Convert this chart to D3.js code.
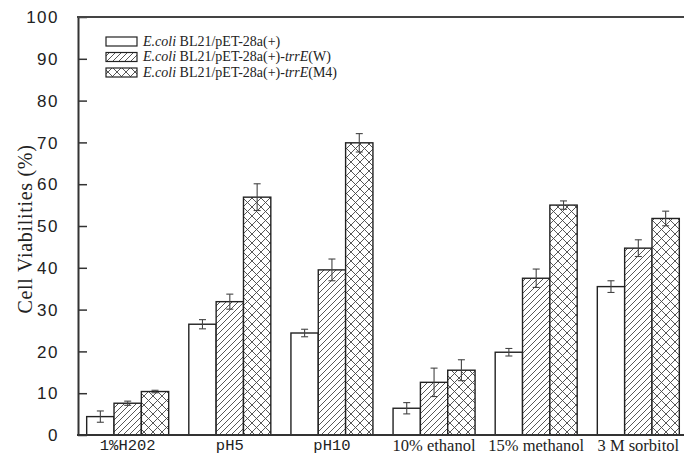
<!DOCTYPE html>
<html><head><meta charset="utf-8">
<script src="https://cdn.jsdelivr.net/npm/d3@7/dist/d3.min.js"></script>
<style>
html,body{margin:0;padding:0;background:#fff;}
svg{display:block;}
</style></head>
<body>
<svg id="chart" width="684" height="455"></svg>
<script>
const categories = ["1%H202", "pH5", "pH10", "10% ethanol", "15% methanol", "3 M sorbitol"];
const monoCats = ["1%H202", "pH5", "pH10"];
const seriesNames = ["control", "W", "M4"];
const controlValues = [4.4, 26.5, 24.4, 6.4, 19.8, 35.5];
const controlErrors = [1.35, 1.1, 0.9, 1.35, 0.9, 1.4];
const wValues = [7.6, 31.9, 39.5, 12.6, 37.5, 44.7];
const wErrors = [0.5, 1.8, 2.6, 3.4, 2.2, 2.0];
const m4Values = [10.4, 56.9, 69.9, 15.5, 55.0, 51.8];
const m4Errors = [0.3, 3.2, 2.2, 2.5, 1.0, 1.75];
const yTicks = [0, 10, 20, 30, 40, 50, 60, 70, 80, 90, 100];
const yLabel = "Cell Viabilities (%)";

(function () {
const svg = d3.select("#chart");
const W = 684, H = 455;
const mLeft = 78, mTop = 17, mBottom = 435;

const x = d3.scaleBand().domain(categories).range([mLeft, 688]).paddingInner(0.197).paddingOuter(0.085);
const xs = d3.scaleBand().domain(seriesNames).range([0, x.bandwidth()]).padding(0);
const y = d3.scaleLinear().domain([0, 100]).range([mBottom, mTop]);

// patterns
const defs = svg.append("defs");
const p1 = defs.append("pattern").attr("id", "hatch").attr("patternUnits", "userSpaceOnUse")
  .attr("width", 6).attr("height", 6);
p1.append("rect").attr("width", 6).attr("height", 6).attr("fill", "#fff");
p1.append("path").attr("d", "M-1,1 l2,-2 M0,6 l6,-6 M5,7 l2,-2").attr("stroke", "#444").attr("stroke-width", 0.9);
const p2 = defs.append("pattern").attr("id", "cross").attr("patternUnits", "userSpaceOnUse")
  .attr("width", 9).attr("height", 9);
p2.append("rect").attr("width", 9).attr("height", 9).attr("fill", "#fff");
p2.append("path").attr("d", "M-1,1 l2,-2 M0,9 l9,-9 M8,10 l2,-2 M-1,8 l2,2 M0,0 l9,9 M8,-1 l2,2")
  .attr("stroke", "#444").attr("stroke-width", 0.9);

const fills = {control: "#fff", W: "url(#hatch)", M4: "url(#cross)"};
const series = [
  {key: "control", values: controlValues, errors: controlErrors},
  {key: "W", values: wValues, errors: wErrors},
  {key: "M4", values: m4Values, errors: m4Errors}
];

// bars
series.forEach(s => {
  const g = svg.append("g");
  g.selectAll("rect").data(categories).join("rect")
    .attr("x", (c) => x(c) + xs(s.key))
    .attr("y", (c, i) => y(s.values[i]))
    .attr("width", xs.bandwidth())
    .attr("height", (c, i) => y(0) - y(s.values[i]))
    .attr("fill", fills[s.key])
    .attr("stroke", "#222").attr("stroke-width", 1.4);
  const e = svg.append("g").attr("stroke", "#444").attr("stroke-width", 1.1).attr("fill", "none");
  categories.forEach((c, i) => {
    const cx = x(c) + xs(s.key) + xs.bandwidth() / 2;
    const y1 = y(s.values[i] + s.errors[i]), y2 = y(s.values[i] - s.errors[i]);
    e.append("line").attr("x1", cx).attr("x2", cx).attr("y1", y1).attr("y2", y2);
    e.append("line").attr("x1", cx - 3.5).attr("x2", cx + 3.5).attr("y1", y1).attr("y2", y1);
    e.append("line").attr("x1", cx - 3.5).attr("x2", cx + 3.5).attr("y1", y2).attr("y2", y2);
  });
});

// axes
const yAxis = d3.axisLeft(y).tickValues(yTicks).tickSizeInner(-9).tickSizeOuter(0).tickPadding(19);
const ya = svg.append("g").attr("transform", `translate(${mLeft},0)`).call(yAxis);
ya.select(".domain").attr("stroke", "#333").attr("stroke-width", 2);
ya.selectAll(".tick line").attr("stroke", "#333").attr("stroke-width", 1.5);
ya.selectAll(".tick text").attr("font-family", "Liberation Sans, Arial, sans-serif")
  .attr("font-size", 17).attr("letter-spacing", "1.5px").attr("fill", "#222").attr("dy", "0.34em");

const xAxis = d3.axisBottom(x).tickSize(0).tickSizeOuter(0).tickPadding(4);
const xa = svg.append("g").attr("transform", `translate(0,${mBottom})`).call(xAxis);
xa.select(".domain").remove();
xa.selectAll(".tick text")
  .attr("font-family", d => monoCats.includes(d) ? "Liberation Mono, monospace" : "Liberation Serif, Times New Roman, serif")
  .attr("font-size", d => monoCats.includes(d) ? 15.5 : 16.5)
  .attr("fill", "#222");
svg.append("line").attr("x1", mLeft - 1).attr("x2", W).attr("y1", mBottom).attr("y2", mBottom)
  .attr("stroke", "#333").attr("stroke-width", 2);
svg.append("line").attr("x1", mLeft - 1).attr("x2", W).attr("y1", mTop).attr("y2", mTop)
  .attr("stroke", "#444").attr("stroke-width", 2);

// y label
svg.append("text").attr("transform", `translate(32,229) rotate(-90)`)
  .attr("text-anchor", "middle").attr("font-family", "Liberation Serif, Times New Roman, serif")
  .attr("font-size", 20).attr("letter-spacing", "0.7px").attr("fill", "#222").text(yLabel);

// legend
const legendRows = [
  {fill: fills.control, parts: [["E.coli", true], [" BL21/pET-28a(+)", false]]},
  {fill: fills.W, parts: [["E.coli", true], [" BL21/pET-28a(+)-", false], ["trrE", true], ["(W)", false]]},
  {fill: fills.M4, parts: [["E.coli", true], [" BL21/pET-28a(+)-", false], ["trrE", true], ["(M4)", false]]}
];
const lg = svg.append("g");
legendRows.forEach((r, i) => {
  const ry = 37 + i * 15.5;
  lg.append("rect").attr("x", 106).attr("y", ry).attr("width", 31).attr("height", 9)
    .attr("fill", r.fill).attr("stroke", "#222").attr("stroke-width", 1.2);
  const t = lg.append("text").attr("x", 143).attr("y", ry + 8.5)
    .attr("font-family", "Liberation Serif, Times New Roman, serif").attr("font-size", 14).attr("fill", "#222");
  r.parts.forEach(p => t.append("tspan").attr("font-style", p[1] ? "italic" : "normal").text(p[0]));
});
})();
</script>
</body></html>
